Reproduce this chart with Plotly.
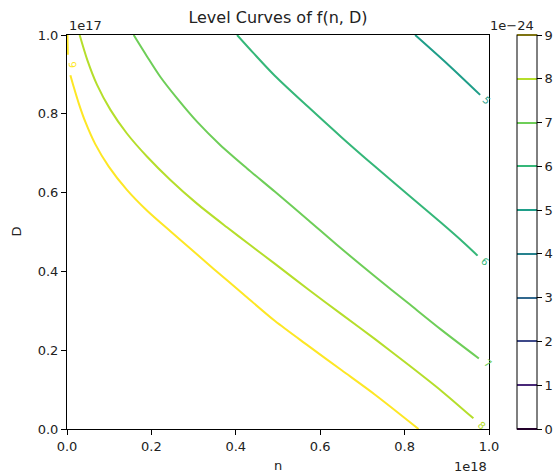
import plotly.graph_objects as go

# ---- data (n in units of 1e18, D in units of 1e17, f in units of 1e-24) ----
levels = [0, 1, 2, 3, 4, 5, 6, 7, 8, 9]
level_colors = ['#440154', '#482878', '#3e4989', '#31688e', '#26828e',
                '#1f9e89', '#35b779', '#6ece58', '#b5de2b', '#fde725']

n9 = [0.001, 0.002, None, 0.008, 0.016, 0.028, 0.044, 0.067, 0.099, 0.142, 0.190,
      0.245, 0.288, 0.347, 0.418, 0.493, 0.572, 0.651, 0.730, 0.833]
D9 = [1.0, 0.95, None, 0.898, 0.868, 0.826, 0.778, 0.723, 0.666, 0.607, 0.554,
      0.502, 0.462, 0.407, 0.342, 0.274, 0.211, 0.149, 0.087, 0.0]

n8 = [0.030, 0.048, 0.071, 0.103, 0.142, 0.190, 0.245, 0.308, 0.379, 0.434, 0.493,
      0.572, 0.651, 0.730, 0.809, 0.888, 0.963]
D8 = [1.0, 0.937, 0.874, 0.810, 0.750, 0.691, 0.632, 0.572, 0.512, 0.467, 0.419,
      0.354, 0.291, 0.228, 0.163, 0.096, 0.027]

n7 = [0.158, 0.190, 0.221, 0.261, 0.308, 0.363, 0.426, 0.493, 0.572, 0.640, 0.730,
      0.809, 0.888, 0.976]
D7 = [1.0, 0.945, 0.894, 0.839, 0.780, 0.721, 0.662, 0.602, 0.530, 0.467, 0.387,
      0.319, 0.251, 0.179]

n6 = [0.403, 0.442, 0.493, 0.572, 0.651, 0.730, 0.809, 0.888, 0.939, 0.973]
D6 = [1.0, 0.954, 0.896, 0.817, 0.740, 0.666, 0.594, 0.522, 0.474, 0.440]

n5 = [0.825, 0.904, 0.979]
D5 = [1.0, 0.924, 0.848]

curve_levels = [9, 8, 7, 6, 5]
curve_n = [n9, n8, n7, n6, n5]
curve_D = [D9, D8, D7, D6, D5]

# contour label positions and text
label_text = ['9', '8', '7', '6', '5']
label_n = [0.0123, 0.983, 0.998, 0.990, 0.994]
label_D = [0.924, 0.010, 0.167, 0.426, 0.833]
label_angle = [84, 42, 37, 40, 43]

tick_vals = [0, 0.2, 0.4, 0.6, 0.8, 1.0]

FONT = 'DejaVu Sans'
TXT = '#222222'

fig = go.Figure()

for lev, xs, ys in zip(curve_levels, curve_n, curve_D):
    fig.add_trace(go.Scatter(
        x=xs, y=ys, mode='lines',
        line=dict(color=level_colors[lev], width=2, shape='spline', smoothing=0.8),
        connectgaps=False, showlegend=False, hoverinfo='skip'))

# contour trace used only for the line-style colorbar (placed outside the view)
cscale = [[i / 9, c] for i, c in enumerate(level_colors)]
fig.add_trace(go.Contour(
    x=[5, 6], y=[5, 6], z=[[levels[0], levels[-1]], [levels[0], levels[-1]]],
    zmin=0, zmax=9, colorscale=cscale,
    autocontour=False,
    contours=dict(start=0, end=9, size=1, coloring='lines'),
    line=dict(width=2),
    showscale=True,
    colorbar=dict(
        x=(517 - 66.5) / 422.5, xanchor='left', xpad=0,
        y=0.5, yanchor='middle', ypad=0, len=1, lenmode='fraction',
        thickness=20, thicknessmode='pixels',
        outlinecolor='#000', outlinewidth=1,
        ticks='outside', ticklen=5, tickcolor='#000', tickwidth=1,
        tickvals=levels, ticktext=[str(v) for v in levels],
        tickfont=dict(family=FONT, size=13, color=TXT)),
    hoverinfo='skip', showlegend=False))

for t, xv, yv, a, lev in zip(label_text, label_n, label_D, label_angle, curve_levels):
    fig.add_annotation(x=xv, y=yv, xref='x', yref='y', text=t, showarrow=False,
                       textangle=a, font=dict(family=FONT, size=10, color=level_colors[lev]),
                       xanchor='center', yanchor='middle')

def px_x(p):
    return (p - 66.5) / 422.5

def px_y(p):
    return (429 - p) / 394

ann = [
    dict(text='1e17', x=0, y=px_y(25), xanchor='left'),
    dict(text='1e18', x=1, y=px_y(466), xanchor='right'),
    dict(text='1e\u221224', x=px_x(536), y=px_y(25), xanchor='right'),
    dict(text='n', x=px_x(278), y=px_y(465), xanchor='center'),
]
for a in ann:
    fig.add_annotation(xref='paper', yref='paper', showarrow=False, yanchor='middle',
                       font=dict(family=FONT, size=13, color=TXT), **a)
fig.add_annotation(xref='paper', yref='paper', showarrow=False, text='D',
                   x=px_x(15), y=px_y(232), xanchor='center', yanchor='middle',
                   textangle=-90, font=dict(family=FONT, size=13, color=TXT))

axis_common = dict(showgrid=False, zeroline=False, showline=True, mirror=True,
                   linecolor='#000', linewidth=1, ticks='outside', ticklen=5,
                   tickwidth=1, tickcolor='#000', tickvals=tick_vals,
                   tickformat='.1f', tickfont=dict(family=FONT, size=13, color=TXT))

fig.update_layout(
    width=554, height=474,
    margin=dict(l=66.5, r=554 - 489, t=35, b=474 - 429, pad=0, autoexpand=False),
    paper_bgcolor='white', plot_bgcolor='white',
    title=dict(text='Level Curves of f(n, D)', x=0.5, xref='paper', xanchor='center',
               y=1 - 17 / 474, yref='container', yanchor='middle',
               font=dict(family=FONT, size=16, color=TXT)),
    xaxis=dict(range=[0, 1], **axis_common),
    yaxis=dict(range=[0, 1], **axis_common),
    showlegend=False,
)

fig.write_html('out.html', config={'displayModeBar': False},
               post_script="document.body.style.margin='0px';")
